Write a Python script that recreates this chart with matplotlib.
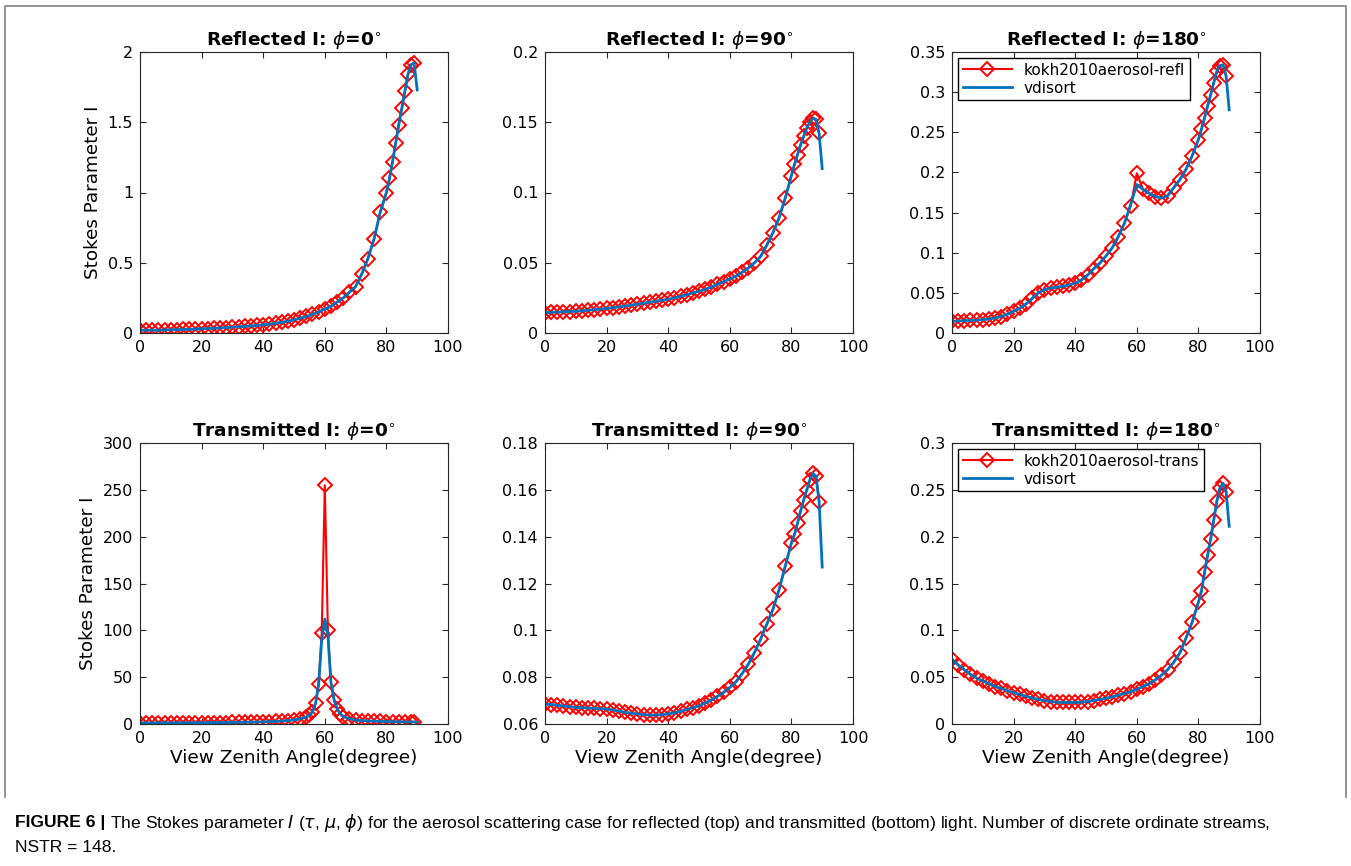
import matplotlib
matplotlib.use("Agg")
import matplotlib.pyplot as plt
from matplotlib.lines import Line2D
from matplotlib.ticker import FuncFormatter

plt.rcParams["font.family"] = ["DejaVu Sans"]
plt.rcParams["mathtext.fontset"] = "dejavusans"

# view zenith angles (degree) of the kokh2010 streams
ang = [0, 2, 4, 6, 8, 10, 12, 14, 16, 18, 20, 22, 24, 26, 28, 30, 32, 34, 36, 38,
       40, 42, 44, 46, 48, 50, 52, 54, 56, 58, 60, 62, 64, 66, 68, 70, 72, 74, 76, 78,
       80, 81, 82, 83, 84, 85, 86, 87, 88, 89]
ang_t0 = [0, 2, 4, 6, 8, 10, 12, 14, 16, 18, 20, 22, 24, 26, 28, 30, 32, 34, 36, 38,
          40, 42, 44, 46, 48, 50, 52, 54, 55, 56, 57, 58, 59, 60, 61, 62, 63, 64, 65, 66,
          68, 70, 72, 74, 76, 78, 80, 82, 84, 86, 88, 89]

# reflected
refl0 = [0.02, 0.02, 0.02, 0.02, 0.022, 0.023, 0.024, 0.025, 0.026, 0.028, 0.03, 0.032,
         0.034, 0.036, 0.038, 0.041, 0.044, 0.047, 0.05, 0.054, 0.058, 0.063, 0.069, 0.076,
         0.084, 0.094, 0.105, 0.118, 0.133, 0.15, 0.17, 0.19, 0.22, 0.25, 0.29, 0.33, 0.42,
         0.53, 0.67, 0.86, 1.0, 1.1, 1.22, 1.35, 1.48, 1.6, 1.72, 1.84, 1.91, 1.92]
refl90 = [0.0145, 0.0147, 0.0149, 0.0151, 0.0153, 0.0155, 0.0158, 0.0162, 0.0166, 0.017,
          0.0175, 0.018, 0.0186, 0.0192, 0.0198, 0.0205, 0.0212, 0.0219, 0.0226, 0.0233,
          0.024, 0.025, 0.026, 0.0273, 0.0285, 0.0297, 0.031, 0.0327, 0.0347, 0.0365,
          0.0385, 0.0405, 0.0432, 0.0463, 0.05, 0.0545, 0.0625, 0.0714, 0.082, 0.096,
          0.112, 0.12, 0.127, 0.134, 0.14, 0.146, 0.15, 0.153, 0.152, 0.142]
refl180 = [0.0145, 0.015, 0.0153, 0.0156, 0.016, 0.0166, 0.0175, 0.0188, 0.0205, 0.0235,
           0.027, 0.031, 0.036, 0.043, 0.05, 0.054, 0.056, 0.057, 0.058, 0.06, 0.062,
           0.066, 0.072, 0.08, 0.087, 0.096, 0.106, 0.12, 0.137, 0.158, 0.199, 0.179,
           0.174, 0.17, 0.168, 0.171, 0.181, 0.191, 0.204, 0.221, 0.241, 0.254, 0.268,
           0.283, 0.297, 0.312, 0.326, 0.333, 0.334, 0.32]
refl180_vd = [0.0145, 0.015, 0.0153, 0.0156, 0.016, 0.0166, 0.0175, 0.0188, 0.0205, 0.0235,
              0.027, 0.031, 0.036, 0.043, 0.05, 0.054, 0.056, 0.057, 0.058, 0.06, 0.062,
              0.066, 0.072, 0.08, 0.087, 0.096, 0.106, 0.12, 0.137, 0.16, 0.185, 0.179,
              0.174, 0.17, 0.168, 0.171, 0.181, 0.191, 0.204, 0.221, 0.241, 0.254, 0.268,
              0.283, 0.297, 0.312, 0.326, 0.333, 0.334, 0.32, 0.278]

# transmitted
trans0 = [1.2, 1.2, 1.2, 1.2, 1.3, 1.3, 1.3, 1.3, 1.4, 1.4, 1.4, 1.5, 1.5, 1.6, 1.6, 1.7,
          1.8, 1.9, 2.0, 2.1, 2.3, 2.5, 2.8, 3.2, 3.7, 4.4, 5.4, 7.5, 9.5, 13, 22, 43, 97,
          255, 100, 45, 26, 16, 11, 8, 5.5, 4.2, 3.6, 3.2, 3.0, 2.8, 2.6, 2.5, 2.4, 2.3,
          2.2, 2.2]
trans0_vd = [1.2, 1.2, 1.2, 1.2, 1.3, 1.3, 1.3, 1.3, 1.4, 1.4, 1.4, 1.5, 1.5, 1.6, 1.6, 1.7,
             1.8, 1.9, 2.0, 2.1, 2.3, 2.5, 2.8, 3.2, 3.7, 4.4, 5.4, 7.5, 9.5, 13, 22, 42, 90,
             112, 95, 44, 26, 16, 11, 8, 5.5, 4.2, 3.6, 3.2, 3.0, 2.8, 2.6, 2.5, 2.4, 2.3,
             2.2, 2.2, 2.1]
trans90 = [0.0685, 0.0683, 0.068, 0.0677, 0.0674, 0.0671, 0.067, 0.0668, 0.0667, 0.0665,
           0.0664, 0.066, 0.0655, 0.065, 0.0646, 0.0643, 0.064, 0.0638, 0.0638, 0.064,
           0.0643, 0.0648, 0.0654, 0.0662, 0.067, 0.0678, 0.069, 0.0702, 0.0718, 0.0735,
           0.0756, 0.078, 0.0815, 0.0855, 0.0905, 0.0962, 0.1026, 0.109, 0.1174, 0.1274,
           0.1373, 0.141, 0.1458, 0.151, 0.1557, 0.16, 0.1642, 0.167, 0.1657, 0.155]
trans180 = [0.069, 0.063, 0.058, 0.053, 0.049, 0.046, 0.043, 0.04, 0.038, 0.0355, 0.0335,
            0.0315, 0.0295, 0.0278, 0.0263, 0.025, 0.024, 0.0233, 0.023, 0.023, 0.023,
            0.0233, 0.024, 0.025, 0.0262, 0.0275, 0.029, 0.0307, 0.0325, 0.0345, 0.037,
            0.04, 0.043, 0.047, 0.052, 0.058, 0.066, 0.076, 0.092, 0.109, 0.13, 0.142,
            0.162, 0.18, 0.198, 0.218, 0.238, 0.252, 0.257, 0.248]

# vdisort ends at 90 degree
vd_end = {"refl0": 1.73, "refl90": 0.117, "trans90": 0.127, "trans180": 0.211}

panels = [
    ("Reflected I: $\\phi$=0$^{\\circ}$", ang, refl0, ang + [90], refl0 + [vd_end["refl0"]], (0, 2), 0.5),
    ("Reflected I: $\\phi$=90$^{\\circ}$", ang, refl90, ang + [90], refl90 + [vd_end["refl90"]], (0, 0.2), 0.05),
    ("Reflected I: $\\phi$=180$^{\\circ}$", ang, refl180, ang + [90], refl180_vd, (0, 0.35), 0.05),
    ("Transmitted I: $\\phi$=0$^{\\circ}$", ang_t0, trans0, ang_t0 + [90], trans0_vd, (0, 300), 50),
    ("Transmitted I: $\\phi$=90$^{\\circ}$", ang, trans90, ang + [90], trans90 + [vd_end["trans90"]], (0.06, 0.18), 0.02),
    ("Transmitted I: $\\phi$=180$^{\\circ}$", ang, trans180, ang + [90], trans180 + [vd_end["trans180"]], (0, 0.3), 0.05),
]

W, H = 1351, 866
fig = plt.figure(figsize=(W / 100, H / 100), dpi=100)

lefts = [140, 545, 952]
tops = [52, 443]
aw, ah = 308, 281

fmt = FuncFormatter(lambda v, p: "%g" % round(v, 4))

for k, (title, xk, yk, xv, yv, ylim, ystep) in enumerate(panels):
    r, c = divmod(k, 3)
    ax = fig.add_axes([lefts[c] / W, 1 - (tops[r] + ah) / H, aw / W, ah / H])
    ax.plot(xk, yk, color="red", lw=1.5, marker="D", ms=7.5, mfc="none", mew=1.4,
            label="kokh2010aerosol-refl" if r == 0 else "kokh2010aerosol-trans")
    ax.plot(xv, yv, color="#0072BD", lw=2, label="vdisort")
    ax.set_xlim(0, 100)
    ax.set_ylim(*ylim)
    ax.set_xticks([0, 20, 40, 60, 80, 100])
    n = int(round((ylim[1] - ylim[0]) / ystep))
    ax.set_yticks([ylim[0] + i * ystep for i in range(n + 1)])
    ax.yaxis.set_major_formatter(fmt)
    ax.tick_params(direction="in", top=True, right=True, labelsize=11.5, length=4,
                   color="#262626", pad=5)
    for s in ax.spines.values():
        s.set_color("#262626")
        s.set_linewidth(0.8)
    ax.set_title(title, fontsize=13.3, fontweight="bold", pad=5)
    if c == 0:
        ax.set_ylabel("Stokes Parameter I", fontsize=13.2)
    if r == 1:
        ax.set_xlabel("View Zenith Angle(degree)", fontsize=13.3, labelpad=2)
    if c == 2:
        ax.legend(loc="upper left", fontsize=11, frameon=True, fancybox=False,
                  edgecolor="black", framealpha=1, handlelength=3.2,
                  borderaxespad=0.4, borderpad=0.3, labelspacing=0.2)

# frame round the figure
x0, x1 = 5 / W, 1346 / W
y0, y1 = 1 - 797 / H, 1 - 6 / H
fig.add_artist(Line2D([x0, x0, x1, x1], [y0, y1, y1, y0], transform=fig.transFigure,
                      color="#808080", lw=1.2))

# caption
cap_font = "Liberation Sans"
cap_size = 12.6
t1 = fig.text(15 / W, 1 - 823 / H, "FIGURE 6 | ", fontsize=cap_size, fontweight="bold",
              family=cap_font, va="center")
fig.canvas.draw()
bb = t1.get_window_extent()
fig.text(bb.x1 / W, 1 - 823 / H,
         "The Stokes parameter $I$ ($\\tau$, $\\mu$, $\\phi$) for the aerosol scattering case "
         "for reflected (top) and transmitted (bottom) light. Number of discrete ordinate streams,",
         fontsize=cap_size, family=cap_font, va="center")
fig.text(15 / W, 1 - 847 / H, "NSTR = 148.", fontsize=cap_size, family=cap_font, va="center")

fig.savefig("out.png", dpi=100)
